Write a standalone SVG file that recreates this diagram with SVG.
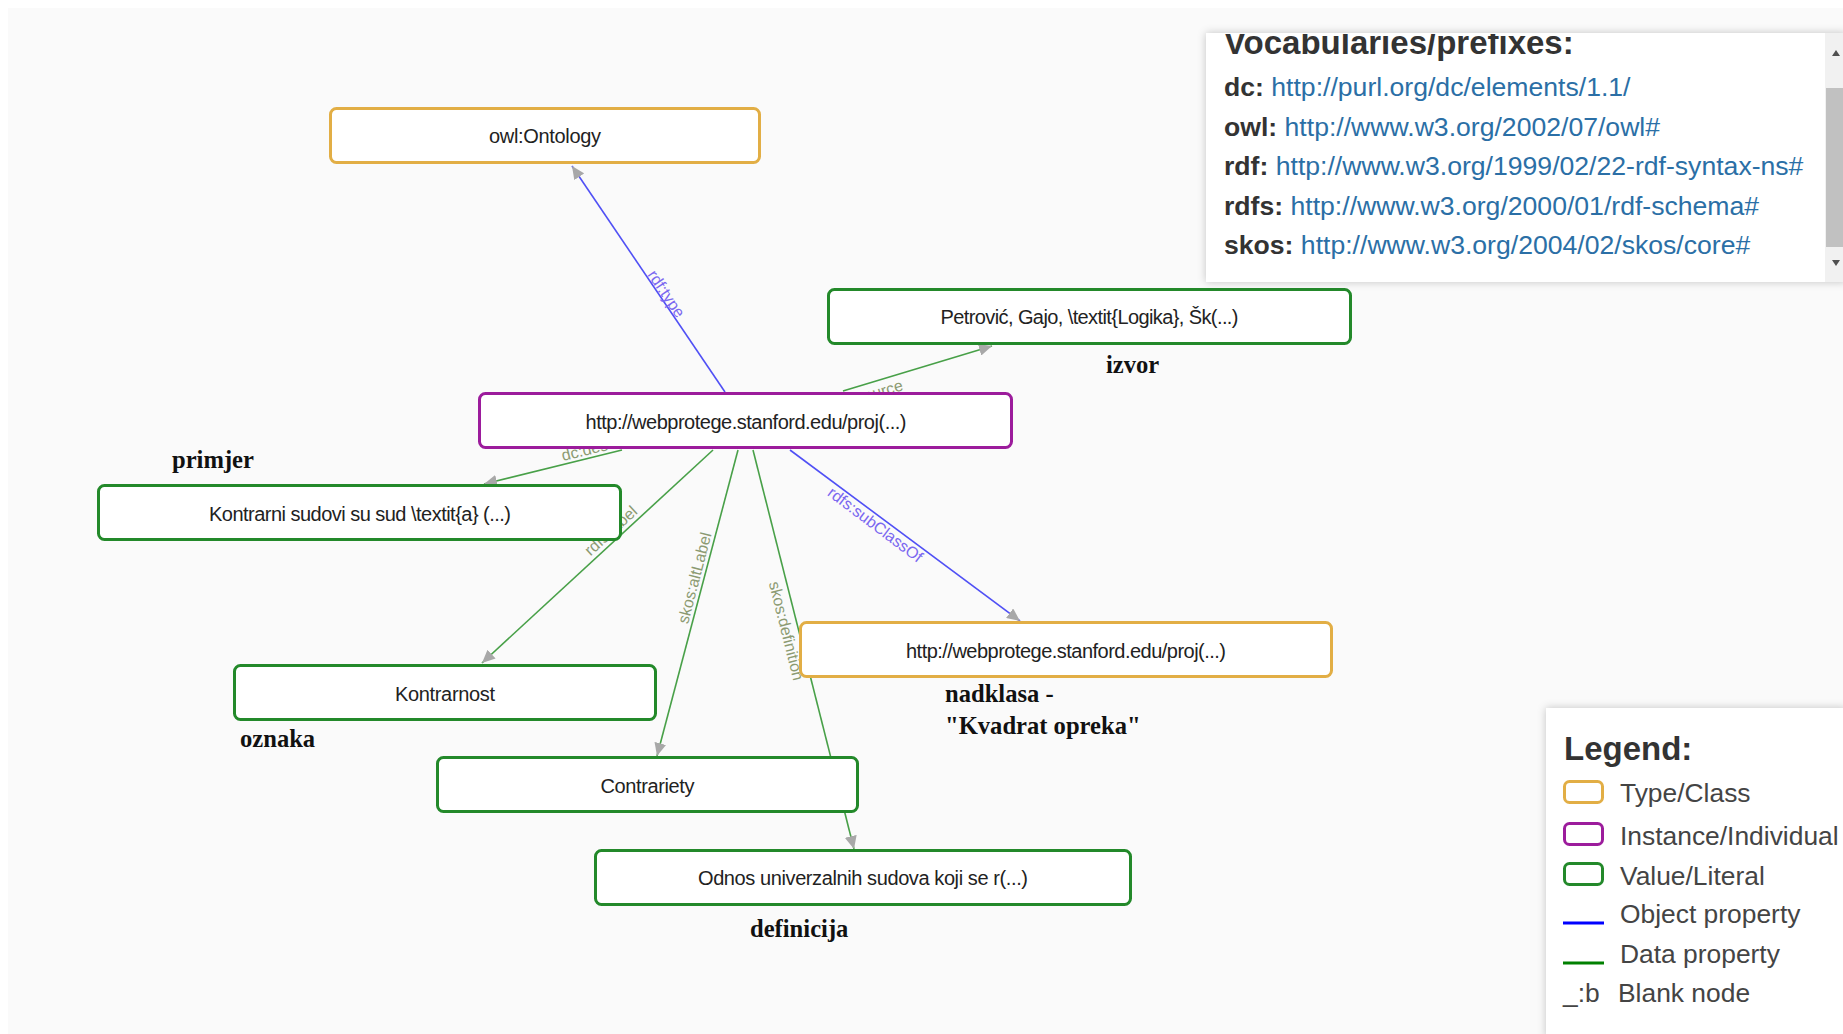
<svg xmlns="http://www.w3.org/2000/svg" width="1843" height="1034" viewBox="0 0 1843 1034">
<defs>
<style>
.node rect{fill:#fff;stroke-width:3}
.cls rect{stroke:#e2ae45}
.ind rect{stroke:#9c1c9c}
.lit rect{stroke:#23892a}
.node text{font-family:"Liberation Sans",Arial,sans-serif;font-size:20px;fill:#222;text-anchor:middle}
.obj{stroke:#5050f5;stroke-width:1.6;fill:none}
.dat{stroke:#48a048;stroke-width:1.6;fill:none}
.lo{font-family:"Liberation Sans",Arial,sans-serif;font-size:16px;fill:#7b68f0;text-anchor:middle}
.ld{font-family:"Liberation Sans",Arial,sans-serif;font-size:16px;fill:#8c9a72;text-anchor:middle}
.ann{font-family:"Liberation Serif","Times New Roman",serif;font-size:24.6px;font-weight:bold;fill:#111}
.pt{font-family:"Liberation Sans",Arial,sans-serif;font-size:26.6px;fill:#2b6fa6}
.pt tspan.b{font-weight:bold;fill:#333}
.ttl{font-family:"Liberation Sans",Arial,sans-serif;font-size:33px;font-weight:bold;fill:#333}
.lg{font-family:"Liberation Sans",Arial,sans-serif;font-size:26.4px;fill:#444}
</style>
<marker id="arr" markerWidth="14" markerHeight="12" refX="13" refY="6" orient="auto" markerUnits="userSpaceOnUse"><path d="M0,0 L13,6 L0,12 z" fill="#a8a8a8"/></marker>
<filter id="sh" x="-10%" y="-10%" width="120%" height="120%"><feDropShadow dx="0" dy="0" stdDeviation="4" flood-color="#000" flood-opacity="0.22"/></filter>
<clipPath id="vclip"><rect x="1206" y="34" width="637" height="248"/></clipPath>
</defs>
<rect x="0" y="0" width="1843" height="1034" fill="#ffffff"/>
<rect x="8" y="8" width="1835" height="1026" fill="#fafafa"/>

<g id="connectors">
<line class="obj" x1="725" y1="392" x2="572" y2="166" marker-end="url(#arr)"/>
<text class="lo" transform="translate(666,294) rotate(55.9)" y="5">rdf:type</text>
<line class="dat" x1="843" y1="391" x2="992" y2="346" marker-end="url(#arr)"/>
<text class="ld" style="text-anchor:end" transform="translate(904,390) rotate(-16.8)">dc:source</text>
<line class="dat" x1="622" y1="450" x2="484" y2="484" marker-end="url(#arr)"/>
<text class="ld" style="text-anchor:start" transform="translate(563,461) rotate(-13.8)">dc:description</text>
<line class="dat" x1="713" y1="450" x2="482" y2="663" marker-end="url(#arr)"/>
<text class="ld" transform="translate(611,531) rotate(-42.5)" y="5">rdfs:label</text>
<line class="dat" x1="738" y1="450" x2="657" y2="756" marker-end="url(#arr)"/>
<text class="ld" transform="translate(695,578) rotate(-75.4)" y="5">skos:altLabel</text>
<line class="dat" x1="753" y1="450" x2="854" y2="849" marker-end="url(#arr)"/>
<text class="ld" transform="translate(786,631) rotate(75.9)" y="5">skos:definition</text>
<line class="obj" x1="790" y1="450" x2="1020" y2="621" marker-end="url(#arr)"/>
<text class="lo" transform="translate(875,525) rotate(36.9)" y="5">rdfs:subClassOf</text>
</g>

<g id="n-ontology" class="node cls"><rect x="330.5" y="108.5" width="429" height="54" rx="6"/><text x="545" y="143" textLength="112" lengthAdjust="spacing">owl:Ontology</text></g>
<g id="n-petrovic" class="node lit"><rect x="828.5" y="289.5" width="522" height="54" rx="6"/><text x="1089.5" y="324" textLength="298" lengthAdjust="spacing">Petrović, Gajo, \textit{Logika}, Šk(...)</text></g>
<g id="n-instance" class="node ind"><rect x="479.5" y="393.5" width="532" height="54" rx="6"/><text x="746" y="428.5" textLength="321" lengthAdjust="spacing">http://webprotege.stanford.edu/proj(...)</text></g>
<g id="n-kontrarni" class="node lit"><rect x="98.5" y="485.5" width="522" height="54" rx="6"/><text x="360" y="520.5" textLength="302" lengthAdjust="spacing">Kontrarni sudovi su sud \textit{a} (...)</text></g>
<g id="n-nadklasa" class="node cls"><rect x="800.5" y="622.5" width="531" height="54" rx="6"/><text x="1066" y="657.5" textLength="320" lengthAdjust="spacing">http://webprotege.stanford.edu/proj(...)</text></g>
<g id="n-kontrarnost" class="node lit"><rect x="234.5" y="665.5" width="421" height="54" rx="6"/><text x="445" y="700.5" textLength="100" lengthAdjust="spacing">Kontrarnost</text></g>
<g id="n-contrariety" class="node lit"><rect x="437.5" y="757.5" width="420" height="54" rx="6"/><text x="647.5" y="792.5" textLength="94" lengthAdjust="spacing">Contrariety</text></g>
<g id="n-odnos" class="node lit"><rect x="595.5" y="850.5" width="535" height="54" rx="6"/><text x="863" y="885" textLength="330" lengthAdjust="spacing">Odnos univerzalnih sudova koji se r(...)</text></g>

<g id="annotations">
<text class="ann" x="172" y="468">primjer</text>
<text class="ann" x="1106" y="373">izvor</text>
<text class="ann" x="240" y="747">oznaka</text>
<text class="ann" x="945" y="702">nadklasa -</text>
<text class="ann" x="945" y="734">"Kvadrat opreka"</text>
<text class="ann" x="750" y="937">definicija</text>
</g>

<g id="vocabularies">
<rect x="1206" y="33" width="640" height="249" fill="#fff" filter="url(#sh)"/>
<g clip-path="url(#vclip)">
<text class="ttl" x="1224" y="54">Vocabularies/prefixes:</text>
<text class="pt" x="1224" y="96"><tspan class="b">dc:</tspan> http://purl.org/dc/elements/1.1/</text>
<text class="pt" x="1224" y="135.5"><tspan class="b">owl:</tspan> http://www.w3.org/2002/07/owl#</text>
<text class="pt" x="1224" y="175"><tspan class="b">rdf:</tspan> http://www.w3.org/1999/02/22-rdf-syntax-ns#</text>
<text class="pt" x="1224" y="214.5"><tspan class="b">rdfs:</tspan> http://www.w3.org/2000/01/rdf-schema#</text>
<text class="pt" x="1224" y="254"><tspan class="b">skos:</tspan> http://www.w3.org/2004/02/skos/core#</text>
</g>
<rect x="1825" y="33" width="18" height="249" fill="#f1f1f1"/>
<rect x="1826" y="88" width="17" height="159" fill="#c1c1c1"/>
<path d="M1832,56 L1836,50 L1840,56 z" fill="#505050"/>
<path d="M1832,260 L1836,266 L1840,260 z" fill="#505050"/>
</g>

<g id="legend">
<rect x="1546" y="708" width="300" height="330" fill="#fff" filter="url(#sh)"/>
<text class="ttl" x="1564" y="760">Legend:</text>
<rect x="1564.5" y="781.5" width="38" height="21" rx="5" fill="#fff" stroke="#e2ae45" stroke-width="3"/>
<text class="lg" x="1620" y="802">Type/Class</text>
<rect x="1564.5" y="823.5" width="38" height="21" rx="5" fill="#fff" stroke="#9c1c9c" stroke-width="3"/>
<text class="lg" x="1620" y="845">Instance/Individual</text>
<rect x="1564.5" y="863.5" width="38" height="21" rx="5" fill="#fff" stroke="#23892a" stroke-width="3"/>
<text class="lg" x="1620" y="885">Value/Literal</text>
<line x1="1563" y1="923" x2="1604" y2="923" stroke="#0000ff" stroke-width="3"/>
<text class="lg" x="1620" y="923">Object property</text>
<line x1="1563" y1="963" x2="1604" y2="963" stroke="#008000" stroke-width="3"/>
<text class="lg" x="1620" y="963">Data property</text>
<text class="lg" x="1563" y="1002">_:b</text>
<text class="lg" x="1618" y="1002">Blank node</text>
</g>
</svg>
